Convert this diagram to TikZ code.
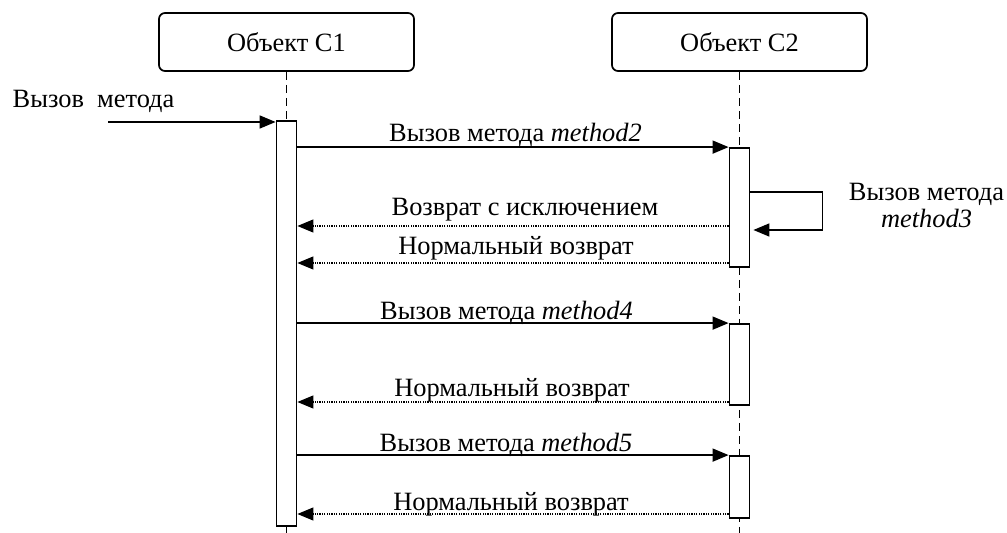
\documentclass[tikz,border=0pt]{standalone}
\usepackage{fontspec}
\setmainfont{Liberation Serif}
\usetikzlibrary{arrows.meta}

\tikzset{
    obj/.style={draw, rounded corners=3pt, line width=0.85pt,
        minimum width=127.5pt, minimum height=29pt},
    act/.style={draw, fill=white, line width=0.9pt, inner sep=0pt,
        minimum width=10pt},
    life/.style={line width=0.8pt, dash pattern=on 4pt off 2.5pt},
    call/.style={line width=0.8pt, -{Triangle[length=8pt,width=6.5pt]}},
    ret/.style={line width=0.6pt, dash pattern=on 0.6pt off 0.6pt,
        -{Triangle[length=8pt,width=6.5pt]}},
    msg/.style={anchor=base, inner sep=0pt}
}

\begin{document}
\begin{tikzpicture}[x=0.5pt, y=-0.5pt, font=\fontsize{13.2}{14.5}\selectfont]

\useasboundingbox (0,0) rectangle (1007,533);

% objects
\node[obj] (obj1) at (286.5,42) {Объект С1};
\node[obj] (obj2) at (739.5,42) {Объект С2};

% free ends
\coordinate (start) at (108,122);
\coordinate (end1) at (286.5,533);
\coordinate (end2) at (739.5,533);

% lifelines
\draw[life] (obj1.south) -- (end1);
\draw[life] (obj2.south) -- (end2);

% activations
\node[act, minimum height=202.5pt] (act1) at (286.5,323.5) {};
\node[act, minimum height=59.5pt] (act21) at (739.5,207.5) {};
\node[act, minimum height=40.5pt] (act22) at (739.5,364.5) {};
\node[act, minimum height=31pt] (act23) at (739.5,487) {};

% incoming call
\draw[call] (start) -- (act1.west |- start);
\node[msg] (lcall) at (93.5,108) {Вызов\ \ метода};

% method2
\draw[call] (act1.east |- act21.north) -- (act21.north west);
\node[msg] (lm2) at (515.5,142) {Вызов метода \textit{method2}};

% method3 (self call)
\draw[call] (act21.east |- 0,192) -- ++(72,0) |- ([xshift=1.5pt]act21.east |- 0,230);
\node[align=center, inner sep=0pt] (lm3) at (926.5,205) {Вызов метода\\[-1pt]\textit{method3}};

\draw[ret] (act21.west |- 0,226) -- (act1.east |- 0,226);
\node[msg] (lexc) at (525,216) {Возврат с исключением};
\draw[ret] (act21.west |- 0,263) -- (act1.east |- 0,263);
\node[msg] (lret1) at (516,255) {Нормальный возврат};

% method4
\draw[call] (act1.east |- act22.north) -- (act22.north west);
\node[msg] (lm4) at (506.5,320) {Вызов метода \textit{method4}};
\draw[ret] (act22.west |- 0,402) -- (act1.east |- 0,402);
\node[msg] (lret2) at (512,397) {Нормальный возврат};

% method5
\draw[call] (act1.east |- act23.north) -- (act23.north west);
\node[msg] (lm5) at (506,452) {Вызов метода \textit{method5}};
\draw[ret] (act23.west |- 0,514) -- (act1.east |- 0,514);
\node[msg] (lret3) at (511,511) {Нормальный возврат};

\end{tikzpicture}
\end{document}
